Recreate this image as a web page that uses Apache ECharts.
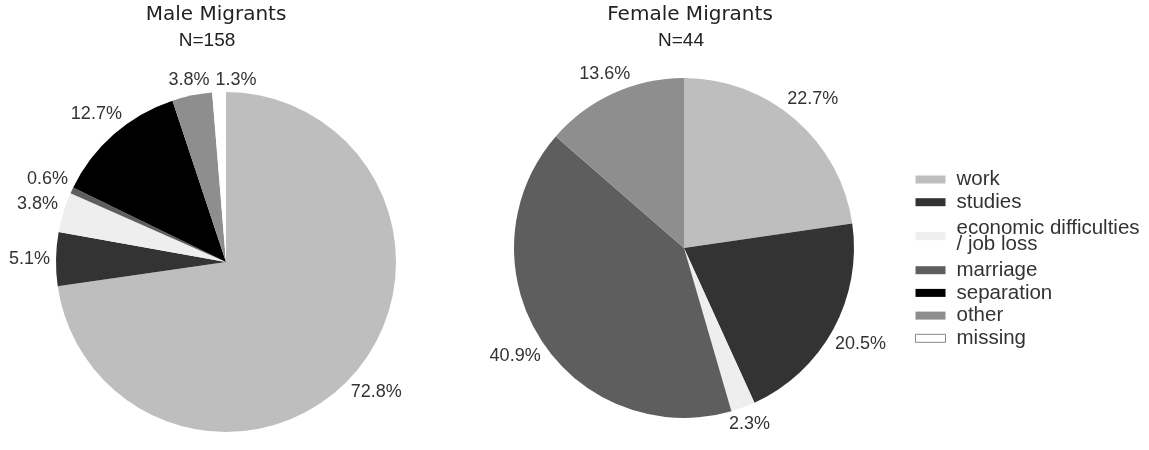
<!DOCTYPE html>
<html>
<head>
<meta charset="utf-8">
<script src="https://cdn.jsdelivr.net/npm/echarts@6/dist/echarts.min.js"></script>
<style>
  html, body { margin: 0; padding: 0; background: #fff; }
  #chart { width: 1149px; height: 450px; }
</style>
</head>
<body>
<div id="chart"></div>
<script>
  // reasons for migration, share in %
  var categories = ['work', 'studies', 'economic difficulties\n/ job loss', 'marriage', 'separation', 'other', 'missing'];
  var maleShares = [72.8, 5.1, 3.8, 0.6, 12.7, 3.8, 1.3];
  var femaleShares = [22.7, 20.5, 2.3, 40.9, 0, 13.6, 0];
  var sliceColors = ['#bebebe', '#333333', '#eeeeee', '#5e5e5e', '#000000', '#8e8e8e', '#ffffff'];
  var titles = ['Male Migrants', 'Female Migrants'];
  var subtitles = ['N=158', 'N=44'];

  var FONT = '"Liberation Sans", Arial, sans-serif';
  var R = 170;
  var GAP = 6; // space between pie edge and label box
  var SPACE = 6; // min horizontal space between two labels on the same row

  function toData(values) {
    return categories.map(function (name, i) {
      var d = { name: name, value: values[i] };
      if (!values[i]) d.label = { show: false };
      return d;
    });
  }

  // put each label just outside the pie, along the slice's mid angle,
  // and slide it sideways if it runs into an earlier label
  function labelPlacer(values, center) {
    var total = 0, acc = 0;
    var placed = [];
    values.forEach(function (v) { total += v; });
    var mids = values.map(function (v) {
      var m = (acc + v / 2) / total * 2 * Math.PI;
      acc += v;
      return m;
    });
    return function (params) {
      var i = params.dataIndex;
      var a = mids[i];
      var s = Math.sin(a), c = Math.cos(a);
      var W = params.labelRect.width, H = params.labelRect.height;
      var d = R + GAP + Math.abs(s) * W / 2 + Math.abs(c) * H * 0.3;
      var x = center[0] + s * d;
      var y = center[1] - c * d;
      placed.forEach(function (p, j) {
        if (!p || j >= i) return;
        if (Math.abs(p.y - y) < (p.h + H) / 2) {
          var need = (p.w + W) / 2 + SPACE;
          var dx = x - p.x;
          if (Math.abs(dx) < need) x = p.x + (dx >= 0 ? need : -need);
        }
      });
      placed[i] = { x: x, y: y, w: W, h: H };
      return {
        x: x,
        y: y,
        align: 'center',
        verticalAlign: 'middle',
        hideOverlap: false
      };
    };
  }

  function pieSeries(values, center) {
    return {
      type: 'pie',
      center: center,
      radius: [0, R],
      startAngle: 90,
      clockwise: true,
      avoidLabelOverlap: false,
      label: {
        show: true,
        position: 'outside',
        fontFamily: FONT,
        fontSize: 18,
        color: '#333',
        formatter: function (p) {
          return p.value.toFixed(1) + '%';
        }
      },
      labelLine: { show: false },
      labelLayout: labelPlacer(values, center),
      itemStyle: { borderWidth: 0 },
      emphasis: { disabled: true },
      data: toData(values)
    };
  }

  var legendData = categories.map(function (name, i) {
    var item = { name: name };
    if (i == 2) {
      item.textStyle = { lineHeight: 16, padding: [3.8, 0, 7.8, 6] };
    }
    if (i == 6) {
      item.itemStyle = { borderColor: '#888', borderWidth: 1 };
    }
    return item;
  });

  var titleFont = { fontFamily: '"DejaVu Sans"', fontSize: 20, fontWeight: 'normal', color: '#222' };
  var subFont = { fontFamily: FONT, fontSize: 19, fontWeight: 'normal', color: '#222' };

  var chart = echarts.init(document.getElementById('chart'), null, { renderer: 'canvas' });
  chart.setOption({
    animation: false,
    color: sliceColors,
    title: [
      { text: titles[0], left: 216, top: 5, padding: 0, textAlign: 'center', textStyle: titleFont },
      { text: subtitles[0], left: 207, top: 31, padding: 0, textAlign: 'center', textStyle: subFont },
      { text: titles[1], left: 690, top: 5, padding: 0, textAlign: 'center', textStyle: titleFont },
      { text: subtitles[1], left: 681, top: 31, padding: 0, textAlign: 'center', textStyle: subFont }
    ],
    legend: {
      orient: 'vertical',
      left: 915,
      top: 169,
      padding: 0,
      itemGap: 1.7,
      itemWidth: 30,
      itemHeight: 8,
      icon: 'rect',
      selectedMode: false,
      itemStyle: { borderWidth: 0 },
      textStyle: {
        fontFamily: FONT,
        fontSize: 20.5,
        lineHeight: 18,
        color: '#333',
        padding: [0, 0, 0, 6]
      },
      data: legendData
    },
    series: [
      pieSeries(maleShares, [226, 262]),
      pieSeries(femaleShares, [684, 248])
    ]
  });
</script>
</body>
</html>
